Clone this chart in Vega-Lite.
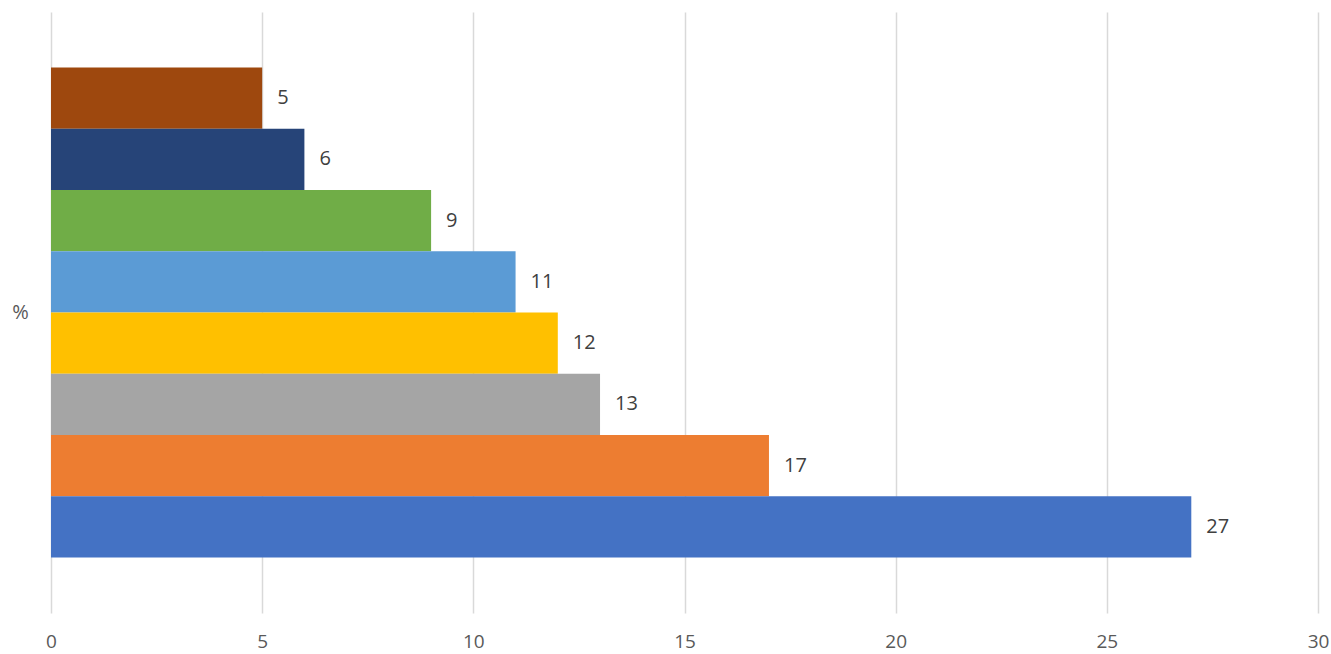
{
  "$schema": "https://vega.github.io/schema/vega-lite/v6.json",
  "width": 1267,
  "height": 601,
  "autosize": {"type": "none"},
  "padding": {"left": 51, "top": 12, "right": 13, "bottom": 41},
  "background": "white",
  "config": {
    "view": {"stroke": null},
    "font": "Open Sans"
  },
  "data": {
    "values": [
      {"cat": "%", "series": "A", "order": 1, "value": 5},
      {"cat": "%", "series": "B", "order": 2, "value": 6},
      {"cat": "%", "series": "C", "order": 3, "value": 9},
      {"cat": "%", "series": "D", "order": 4, "value": 11},
      {"cat": "%", "series": "E", "order": 5, "value": 12},
      {"cat": "%", "series": "F", "order": 6, "value": 13},
      {"cat": "%", "series": "G", "order": 7, "value": 17},
      {"cat": "%", "series": "H", "order": 8, "value": 27}
    ]
  },
  "encoding": {
    "y": {
      "field": "cat",
      "type": "nominal",
      "scale": {"paddingInner": 0, "paddingOuter": 0.1133},
      "axis": {
        "title": null,
        "domain": false,
        "ticks": false,
        "tickSize": 0,
        "labelAlign": "center",
        "labelBaseline": "middle",
        "labelPadding": 31,
        "labelFontSize": 20,
        "labelColor": "#595959",
        "labelFont": "Open Sans"
      }
    },
    "yOffset": {
      "field": "series",
      "type": "nominal",
      "sort": ["A", "B", "C", "D", "E", "F", "G", "H"],
      "scale": {"paddingInner": 0, "paddingOuter": 0}
    },
    "x": {
      "field": "value",
      "type": "quantitative",
      "scale": {"domain": [0, 30], "nice": false},
      "axis": {
        "title": null,
        "values": [0, 5, 10, 15, 20, 25, 30],
        "domain": false,
        "ticks": false,
        "tickSize": 0,
        "grid": true,
        "gridColor": "#D9D9D9",
        "gridWidth": 1.5,
        "labelPadding": 19,
        "labelFontSize": 19,
        "labelColor": "#595959",
        "labelFont": "Open Sans",
        "labelFlush": false
      }
    }
  },
  "layer": [
    {
      "mark": {"type": "bar"},
      "encoding": {
        "color": {
          "field": "series",
          "type": "nominal",
          "legend": null,
          "scale": {
            "domain": ["A", "B", "C", "D", "E", "F", "G", "H"],
            "range": ["#9E480E", "#264478", "#70AD47", "#5B9BD5", "#FFC000", "#A5A5A5", "#ED7D31", "#4472C4"]
          }
        }
      }
    },
    {
      "mark": {
        "type": "text",
        "align": "left",
        "baseline": "middle",
        "dx": 15,
        "fontSize": 20,
        "color": "#404040",
        "font": "Open Sans"
      },
      "encoding": {
        "text": {"field": "value", "type": "quantitative"}
      }
    }
  ]
}
